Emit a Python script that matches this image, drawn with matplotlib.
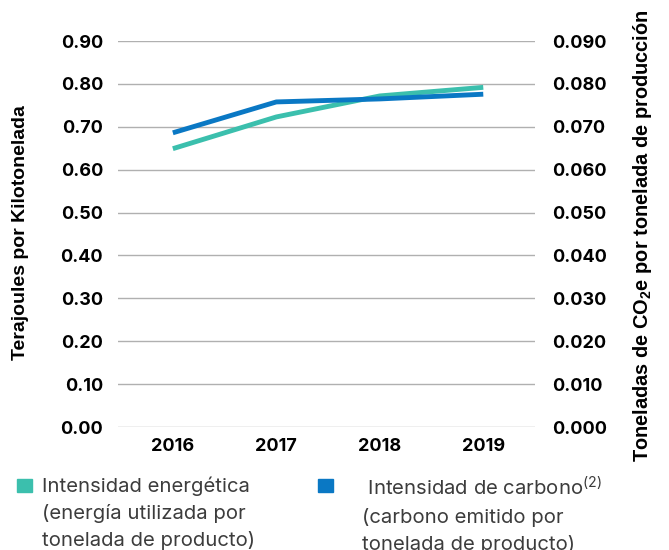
import matplotlib
matplotlib.use("Agg")
import matplotlib.pyplot as plt
from matplotlib.patches import Rectangle

years = ["2016", "2017", "2018", "2019"]
energy = [0.649, 0.723, 0.772, 0.792]
carbon = [0.0686, 0.0758, 0.0765, 0.0776]
left_ticks = [0.0, 0.1, 0.2, 0.3, 0.4, 0.5, 0.6, 0.7, 0.8, 0.9]
right_ticks = [0.0, 0.01, 0.02, 0.03, 0.04, 0.05, 0.06, 0.07, 0.08, 0.09]

GREEN = "#3bbfad"
BLUE = "#0a78c4"
plt.rcParams['font.family'] = ['Liberation Sans', 'DejaVu Sans']
plt.rcParams['mathtext.fontset'] = 'custom'
plt.rcParams['mathtext.rm'] = 'Inter'
plt.rcParams['mathtext.bf'] = 'Liberation Sans:bold'

TICKFONT = dict(family=['Inter', 'DejaVu Sans'], weight='bold', size=13)

fig = plt.figure(figsize=(6.69, 5.5), dpi=100)
ax = fig.add_axes([0.1764, 0.2236, 0.6233, 0.7018])
ax2 = ax.twinx()

x = list(range(len(years)))
ax.plot(x, energy, color=GREEN, lw=3.5, solid_capstyle='butt', zorder=3)
ax2.plot(x, carbon, color=BLUE, lw=3.5, solid_capstyle='butt', zorder=3)

ax.set_xlim(-0.53, 3.5)
ax.set_ylim(0, 0.9)
ax2.set_ylim(0, 0.09)
ax.set_yticks(left_ticks)
ax.set_yticklabels([f"{v:.2f}" for v in left_ticks], **TICKFONT)
ax2.set_yticks(right_ticks)
ax2.set_yticklabels([f"{v:.3f}" for v in right_ticks], **TICKFONT)
ax.set_xticks(x)
ax.set_xticklabels(years, **TICKFONT)
ax.grid(axis='y', color='#b0b0b0', lw=1)
ax.set_axisbelow(True)
for a in (ax, ax2):
    for s in a.spines.values():
        s.set_visible(False)
    a.tick_params(length=0)
ax.tick_params(axis='y', pad=10.8)
ax.tick_params(axis='x', pad=8)
ax2.tick_params(axis='y', pad=12)

fig.text(0.03, 0.577, "Terajoules por Kilotonelada", rotation=90, fontweight='bold',
         fontsize=14, ha='center', va='center')
fig.text(0.961, 0.571, r"Toneladas de CO$_\mathbf{2}$e por tonelada de producción", rotation=90,
         fontweight='bold', fontsize=14.4, ha='center', va='center')

# legend
fig.patches.append(Rectangle((17/669, 1-492/550), 15/669, 13/550, transform=fig.transFigure,
                             color=GREEN, figure=fig))
fig.patches.append(Rectangle((318/669, 1-492/550), 15/669, 13/550, transform=fig.transFigure,
                             color=BLUE, figure=fig))
LEG = dict(fontsize=14.6, color='#3c3c3c', va='top', ha='left', linespacing=1.56,
           family=['Inter', 'DejaVu Sans'])
fig.text(42/669, 1-476/550, "Intensidad energética\n(energía utilizada por\ntonelada de producto)",
         **LEG)
fig.text(362/669, 1-476/550, " Intensidad de carbono$^{\\mathrm{(2)}}$\n(carbono emitido por\ntonelada de producto)",
         **LEG)

fig.savefig("out.png", dpi=100)
